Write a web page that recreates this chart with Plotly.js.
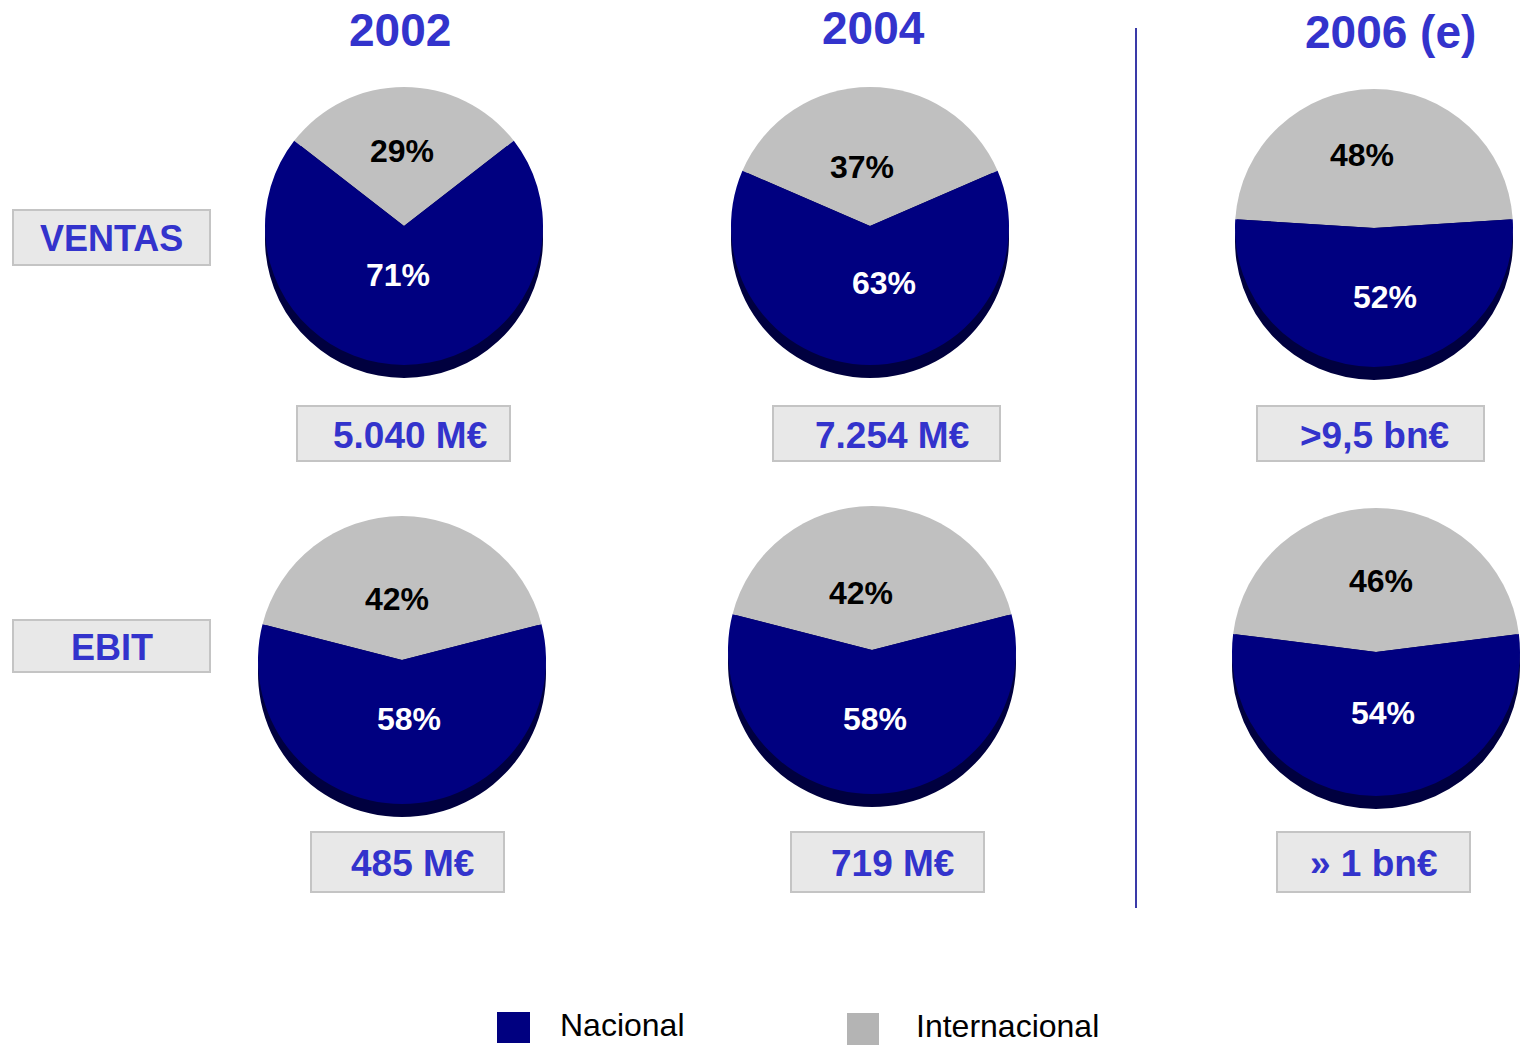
<!DOCTYPE html>
<html>
<head>
<meta charset="utf-8">
<script src="https://cdn.plot.ly/plotly-3.0.1.min.js"></script>
<style>html,body{margin:0;padding:0;background:#fff;}#chart{width:1523px;height:1046px;}</style>
</head>
<body>
<div id="chart"></div>
<script>
// ---- data ----
const years = ['2002', '2004', '2006 (e)'];
const seriesNames = ['Nacional', 'Internacional'];
const rowLabels = ['VENTAS', 'EBIT'];
const ventasNacional = [71, 63, 52];
const ventasInternacional = [29, 37, 48];
const ebitNacional = [58, 58, 54];
const ebitInternacional = [42, 42, 46];
const ventasTotals = ['5.040 M€', '7.254 M€', '>9,5 bn€'];
const ebitTotals = ['485 M€', '719 M€', '» 1 bn€'];

// ---- layout constants (pixels) ----
const W = 1523, H = 1046;
const NAVY = '#000080', GREY = '#c0c0c0', SHADOW = '#00003f', BLUE = '#3333cc';
const FONT = 'Liberation Sans, Arial, sans-serif';
const rows = [
  { nat: ventasNacional, intl: ventasInternacional, totals: ventasTotals,
    centers: [[404, 226], [870, 226], [1374, 228]], r: 139,
    intlLbl: [[402, 151], [862, 167], [1362, 155]], natLbl: [[398, 275], [884, 283], [1385, 297]],
    boxes: [[297, 406, 510, 461], [773, 406, 1000, 461], [1257, 406, 1484, 461]],
    boxText: [[410, 435], [892, 435], [1374, 435]],
    rowBox: [13, 210, 210, 265] },
  { nat: ebitNacional, intl: ebitInternacional, totals: ebitTotals,
    centers: [[402, 660], [872, 650], [1376, 652]], r: 144,
    intlLbl: [[397, 599], [861, 593], [1381, 581]], natLbl: [[409, 719], [875, 719], [1383, 713]],
    boxes: [[311, 832, 504, 892], [791, 832, 984, 892], [1277, 832, 1470, 892]],
    boxText: [[412, 863], [892, 863], [1374, 863]],
    rowBox: [13, 620, 210, 672] }
];
const titlePos = [[400, 30], [873, 28], [1390, 32]];
const SHADOW_DY = 13;

const px = x => x / W;
const py = y => 1 - y / H;

const traces = [];
const annotations = [];
const shapes = [];

rows.forEach((row, ri) => {
  years.forEach((yr, i) => {
    const vals = [row.intl[i], row.nat[i]];
    const frac = row.intl[i] / (row.intl[i] + row.nat[i]);
    const [cx, cy] = row.centers[i];
    const r = row.r;
    const common = {
      type: 'pie', values: vals, labels: [seriesNames[1], seriesNames[0]],
      sort: false, direction: 'clockwise', rotation: -frac * 180,
      textinfo: 'none', hoverinfo: 'skip', showlegend: false
    };
    // shadow
    traces.push(Object.assign({}, common, {
      marker: { colors: [SHADOW, SHADOW], line: { width: 0 } },
      domain: { x: [px(cx - r), px(cx + r)], y: [py(cy + r + SHADOW_DY), py(cy - r + SHADOW_DY)] }
    }));
    // main pie
    traces.push(Object.assign({}, common, {
      marker: { colors: [GREY, NAVY], line: { width: 0 } },
      domain: { x: [px(cx - r), px(cx + r)], y: [py(cy + r), py(cy - r)] }
    }));
    // percent labels
    annotations.push({ xref: 'paper', yref: 'paper', x: px(row.intlLbl[i][0]), y: py(row.intlLbl[i][1]),
      text: row.intl[i] + '%', showarrow: false, xanchor: 'center', yanchor: 'middle',
      font: { family: FONT, size: 32, weight: 'bold', color: '#000000' } });
    annotations.push({ xref: 'paper', yref: 'paper', x: px(row.natLbl[i][0]), y: py(row.natLbl[i][1]),
      text: row.nat[i] + '%', showarrow: false, xanchor: 'center', yanchor: 'middle',
      font: { family: FONT, size: 32, weight: 'bold', color: '#ffffff' } });
    // total boxes
    const b = row.boxes[i];
    shapes.push({ type: 'rect', xref: 'paper', yref: 'paper', x0: px(b[0]), x1: px(b[2]), y0: py(b[3]), y1: py(b[1]),
      fillcolor: '#e8e8e8', line: { color: '#c4c4c4', width: 2 }, layer: 'below' });
    annotations.push({ xref: 'paper', yref: 'paper', x: px(row.boxText[i][0]), y: py(row.boxText[i][1]),
      text: row.totals[i], showarrow: false, xanchor: 'center', yanchor: 'middle',
      font: { family: FONT, size: 37, weight: 'bold', color: BLUE } });
  });
  // row label box
  const rb = row.rowBox;
  shapes.push({ type: 'rect', xref: 'paper', yref: 'paper', x0: px(rb[0]), x1: px(rb[2]), y0: py(rb[3]), y1: py(rb[1]),
    fillcolor: '#e8e8e8', line: { color: '#c4c4c4', width: 2 }, layer: 'below' });
  annotations.push({ xref: 'paper', yref: 'paper', x: px((rb[0] + rb[2]) / 2), y: py((rb[1] + rb[3]) / 2 + 1),
    text: rowLabels[ri], showarrow: false, xanchor: 'center', yanchor: 'middle',
    font: { family: FONT, size: 36, weight: 'bold', color: BLUE } });
});

// year titles
years.forEach((yr, i) => {
  annotations.push({ xref: 'paper', yref: 'paper', x: px(titlePos[i][0]), y: py(titlePos[i][1]),
    text: yr, showarrow: false, xanchor: 'center', yanchor: 'middle',
    font: { family: FONT, size: 46, weight: 'bold', color: BLUE } });
});

// vertical separator
shapes.push({ type: 'line', xref: 'paper', yref: 'paper', x0: px(1136), x1: px(1136), y0: py(28), y1: py(908),
  line: { color: '#3a3aa8', width: 2 } });

// legend
const legendItems = [
  { name: seriesNames[0], color: NAVY, sq: [497, 1012, 530, 1043], tx: 559, ty: 1025 },
  { name: seriesNames[1], color: '#b4b4b4', sq: [847, 1013, 879, 1045], tx: 915, ty: 1026 }
];
legendItems.forEach(it => {
  shapes.push({ type: 'rect', xref: 'paper', yref: 'paper', x0: px(it.sq[0]), x1: px(it.sq[2]), y0: py(it.sq[3]), y1: py(it.sq[1]),
    fillcolor: it.color, line: { width: 0 } });
  annotations.push({ xref: 'paper', yref: 'paper', x: px(it.tx), y: py(it.ty),
    text: it.name, showarrow: false, xanchor: 'left', yanchor: 'middle', borderpad: 0,
    font: { family: FONT, size: 32, color: '#000000' } });
});

const layout = {
  width: W, height: H,
  margin: { l: 0, r: 0, t: 0, b: 0 },
  paper_bgcolor: '#ffffff', plot_bgcolor: '#ffffff',
  showlegend: false,
  annotations: annotations,
  shapes: shapes
};

Plotly.newPlot('chart', traces, layout, { displayModeBar: false, staticPlot: true });
</script>
</body>
</html>
